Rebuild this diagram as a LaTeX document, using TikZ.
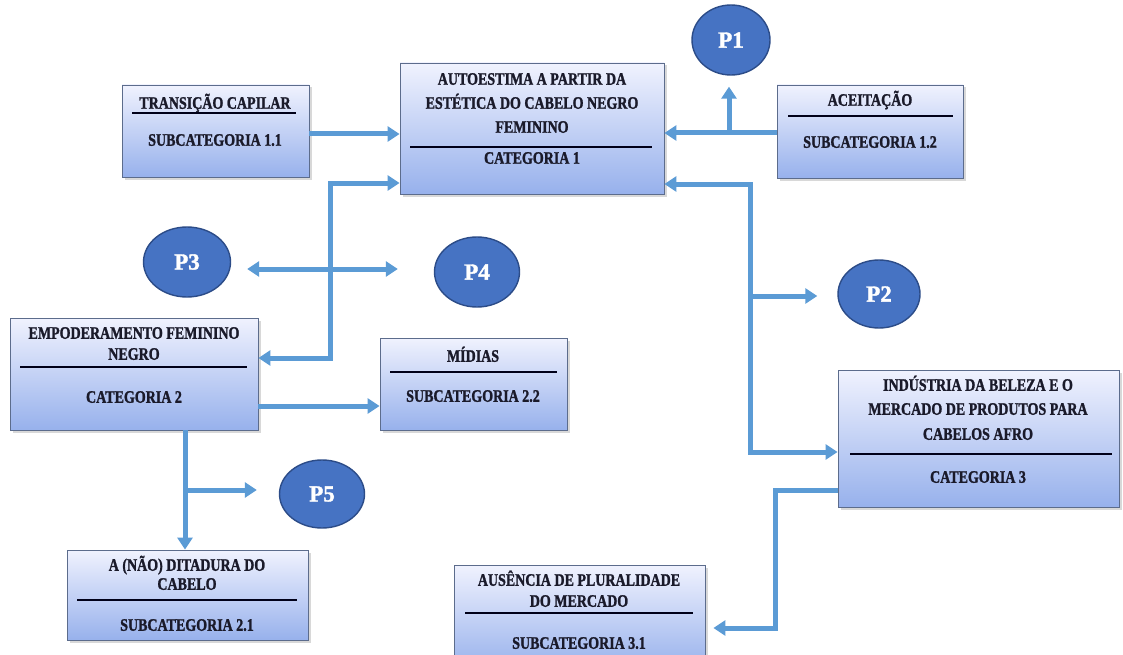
\documentclass[tikz,border=0pt]{standalone}
\usepackage{fontspec}
\usepackage{graphicx}
\setmainfont{Liberation Serif}[BoldFeatures={FakeBold=1.6}]
\usetikzlibrary{arrows.meta,shadows,shadings,calc,shapes.geometric}
\definecolor{conncol}{HTML}{5B9BD5}
\definecolor{boxtop}{HTML}{F0F2FE}
\definecolor{boxbot}{HTML}{97B1EC}
\definecolor{boxline}{HTML}{5C6C8C}
\definecolor{txtcol}{HTML}{1A1A2A}
\definecolor{pfill}{HTML}{4673C3}
\definecolor{pline}{HTML}{2C4C88}
\newcommand\sqz[1]{\scalebox{0.8}[1]{#1}}
\begin{document}
\begin{tikzpicture}[x=1pt,y=-1pt,
  catbox/.style={draw=boxline, line width=0.9pt, top color=boxtop, bottom color=boxbot,
    drop shadow={opacity=0.3, shadow xshift=2.5pt, shadow yshift=-2.5pt}, inner sep=0pt},
  lbl/.style={font=\fontsize{17.5}{20}\selectfont\bfseries, text=txtcol, inner sep=0pt,
    text height=11.5pt, text depth=0pt, anchor=center},
  rule/.style={draw=black!90!blue, line width=1.8pt},
  pnode/.style={ellipse, draw=pline, line width=1.4pt, fill=pfill, inner sep=0pt,
    text=white, font=\fontsize{23}{26}\selectfont\bfseries},
  conn/.style={draw=conncol, line width=5pt, -{Triangle[width=15pt,length=12pt]}},
  conn2/.style={draw=conncol, line width=5pt, {Triangle[width=15pt,length=12pt]}-{Triangle[width=15pt,length=12pt]}},
  plain/.style={draw=conncol, line width=5pt}
]
\clip (0,0) rectangle (1123,655);
\fill[white] (0,0) rectangle (1123,655);

% ---------- boxes ----------
\node[catbox, minimum width=187pt, minimum height=92pt] (b11) at (215.5,131) {};
\node[catbox, minimum width=264pt, minimum height=131pt] (c1) at (532,128.5) {};
\node[catbox, minimum width=186pt, minimum height=93pt] (b12) at (870,131.5) {};
\node[catbox, minimum width=248pt, minimum height=112pt] (c2) at (134,374) {};
\node[catbox, minimum width=187pt, minimum height=92pt] (b22) at (473.5,384) {};
\node[catbox, minimum width=241pt, minimum height=90pt] (b21) at (187.5,595) {};
\node[catbox, minimum width=281pt, minimum height=137pt] (c3) at (978.5,438.5) {};
\node[catbox, minimum width=251pt, minimum height=105pt] (b31) at (579.5,617.5) {};

% ---------- texts ----------
\node[lbl] (t11a) at (215,103) {\sqz{TRANSIÇÃO CAPILAR}};
\draw[rule] (132,113) -- (296,113);
\node[lbl] (t11b) at (215,140) {\sqz{SUBCATEGORIA 1.1}};

\node[lbl] (t1a) at (532,79) {\sqz{AUTOESTIMA A PARTIR DA}};
\node[lbl] (t1b) at (532,103) {\sqz{ESTÉTICA DO CABELO NEGRO}};
\node[lbl] (t1c) at (532,127) {\sqz{FEMININO}};
\draw[rule] (410,147) -- (652,147);
\node[lbl] (t1d) at (532,158) {\sqz{CATEGORIA 1}};

\node[lbl] (t12a) at (870,100) {\sqz{ACEITAÇÃO}};
\draw[rule] (788,116) -- (953,116);
\node[lbl] (t12b) at (870,142) {\sqz{SUBCATEGORIA 1.2}};

\node[lbl] (t2a) at (134,333) {\sqz{EMPODERAMENTO FEMININO}};
\node[lbl] (t2b) at (134,354) {\sqz{NEGRO}};
\draw[rule] (20,367) -- (247,367);
\node[lbl] (t2c) at (134,397) {\sqz{CATEGORIA 2}};

\node[lbl] (t22a) at (473,356) {\sqz{MÍDIAS}};
\draw[rule] (390,372) -- (557,372);
\node[lbl] (t22b) at (473,396) {\sqz{SUBCATEGORIA 2.2}};

\node[lbl] (t21a) at (187,565) {\sqz{A (NÃO) DITADURA DO}};
\node[lbl] (t21b) at (187,584) {\sqz{CABELO}};
\draw[rule] (77,600) -- (297,600);
\node[lbl] (t21c) at (187,625) {\sqz{SUBCATEGORIA 2.1}};

\node[lbl] (t3a) at (978,385) {\sqz{INDÚSTRIA DA BELEZA E O}};
\node[lbl] (t3b) at (978,409) {\sqz{MERCADO DE PRODUTOS PARA}};
\node[lbl] (t3c) at (978,434) {\sqz{CABELOS AFRO}};
\draw[rule] (850,454) -- (1112,454);
\node[lbl] (t3d) at (978,477) {\sqz{CATEGORIA 3}};

\node[lbl] (t31a) at (579,580) {\sqz{AUSÊNCIA DE PLURALIDADE}};
\node[lbl] (t31b) at (579,601) {\sqz{DO MERCADO}};
\draw[rule] (465,613) -- (693,613);
\node[lbl] (t31c) at (579,643) {\sqz{SUBCATEGORIA 3.1}};

% ---------- P ellipses ----------
\node[pnode, minimum width=78pt, minimum height=70pt] (p1) at (731,40) {P1};
\node[pnode, minimum width=82pt, minimum height=68pt] (p2) at (879,294) {P2};
\node[pnode, minimum width=87pt, minimum height=70pt] (p3) at (187,262) {P3};
\node[pnode, minimum width=85pt, minimum height=70pt] (p4) at (477,272) {P4};
\node[pnode, minimum width=85pt, minimum height=68pt] (p5) at (322,494) {P5};

% ---------- junction coordinates ----------
\coordinate (r11) at (0,134);
\coordinate (j12) at (729,133);
\coordinate (j2a) at (330,183);
\coordinate (j2b) at (330,358);
\coordinate (j34) at (330,269);
\coordinate (j3a) at (750,184);
\coordinate (j3b) at (750,452);
\coordinate (jp2) at (750,296);
\coordinate (r22) at (0,406);
\coordinate (j21) at (185,430);
\coordinate (jp5) at (185,490);
\coordinate (k3a) at (775,490);
\coordinate (k3b) at (775,628);

% ---------- connectors ----------
\draw[conn] (b11.east |- r11) -- (c1.west |- r11);
\draw[conn] (b12.west |- j12) -- (c1.east |- j12);
\draw[conn, shorten >=11pt] (j12) -- (p1.south -| j12);
\draw[conn2] (c2.east |- j2b) -- (j2b) -- (j2a) -- (c1.west |- j2a);
\draw[conn2, shorten <=16pt, shorten >=36pt] (p3.east |- j34) -- (p4.west |- j34);
\draw[conn2] (c1.east |- j3a) -- (j3a) -- (j3b) -- (c3.west |- j3b);
\draw[conn, shorten >=20pt] (jp2) -- (p2.west |- jp2);
\draw[conn] (c2.east |- r22) -- (b22.west |- r22);
\draw[conn] (j21) -- (b21.north -| j21);
\draw[conn, shorten >=22pt] (jp5) -- (p5.west |- jp5);
\draw[conn, shorten >=8pt] (c3.west |- k3a) -- (k3a) -- (k3b) -- (b31.east |- k3b);
\end{tikzpicture}
\end{document}
